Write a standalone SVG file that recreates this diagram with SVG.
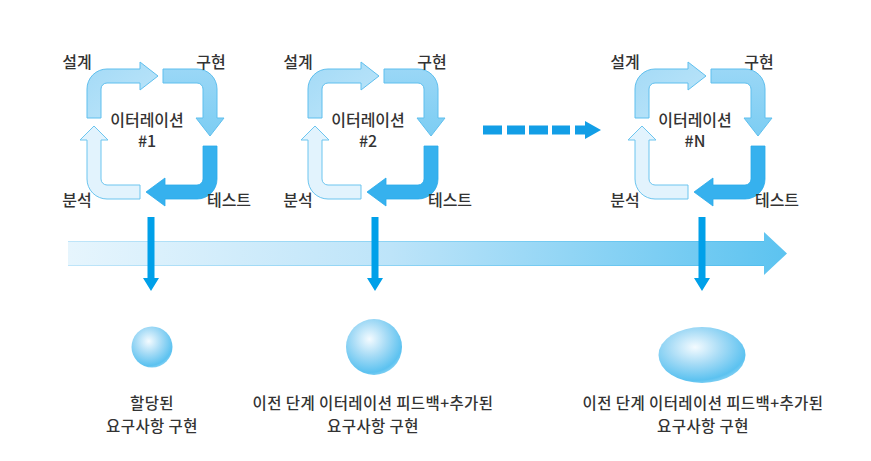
<svg xmlns="http://www.w3.org/2000/svg" xmlns:xlink="http://www.w3.org/1999/xlink" width="871" height="461" viewBox="0 0 871 461">
<style>
.lbl{font-family:"Noto Sans CJK KR","Noto Sans",sans-serif;font-size:16px;fill:#333;text-anchor:middle;font-weight:500}
.ctr{font-family:"Noto Sans CJK KR","Noto Sans",sans-serif;font-size:16px;fill:#333;text-anchor:middle;font-weight:500}
.cap{font-family:"Noto Sans CJK KR","Noto Sans",sans-serif;font-size:15.5px;letter-spacing:0.4px;fill:#333;text-anchor:middle;font-weight:500}
.a1{fill:url(#gA1);stroke:#5fbfee;stroke-width:1}
.a2{fill:url(#gA2);stroke:#5fbfee;stroke-width:1}
.a3{fill:#36b1ee;stroke:#2aaaea;stroke-width:0.8}
.a4{fill:#e2f3fd;stroke:#6cc5ef;stroke-width:1}
.down{fill:#00a0e9}
.dash{fill:#129ee6}
</style>
<defs>
<linearGradient id="gA1" x1="0" y1="0" x2="1" y2="1">
<stop offset="0" stop-color="#a3daf6"/><stop offset="1" stop-color="#bfe6fa"/>
</linearGradient>
<linearGradient id="gA2" x1="0" y1="0" x2="0" y2="1">
<stop offset="0" stop-color="#9ad7f6"/><stop offset="1" stop-color="#7ccdf3"/>
</linearGradient>
<linearGradient id="gMain" x1="68" y1="0" x2="787" y2="0" gradientUnits="userSpaceOnUse">
<stop offset="0" stop-color="#e6f5fd"/><stop offset="0.45" stop-color="#bde4f9"/><stop offset="1" stop-color="#5cc3f0"/>
</linearGradient>
<linearGradient id="gMainEdge" x1="68" y1="0" x2="787" y2="0" gradientUnits="userSpaceOnUse">
<stop offset="0" stop-color="#bfe5f9"/><stop offset="1" stop-color="#4fbdee"/>
</linearGradient>
<radialGradient id="gBub" cx="0.42" cy="0.36" r="0.66">
<stop offset="0" stop-color="#f4fbff"/><stop offset="0.45" stop-color="#a8dcf6"/><stop offset="0.9" stop-color="#5cc2f0"/><stop offset="1" stop-color="#7fcff3"/>
</radialGradient>
<g id="cycle">
<path class="a1" d="M -65,-16 L -65,-45 A 20,20 0 0 1 -45,-65 L -12,-65 L -12,-72 L 6,-58 L -12,-44 L -12,-51 L -45,-51 A 6,6 0 0 0 -51,-45 L -51,-16 Z"/>
<path class="a2" d="M 11,-65 L 45,-65 A 20,20 0 0 1 65,-45 L 65,-16 L 72,-16 L 58,2 L 44,-16 L 51,-16 L 51,-45 A 6,6 0 0 0 45,-51 L 11,-51 Z"/>
<path class="a3" d="M 65,12 L 65,45 A 20,20 0 0 1 45,65 L 13,65 L 13,72 L -6,58 L 13,44 L 13,51 L 45,51 A 6,6 0 0 0 51,45 L 51,12 Z"/>
<path class="a4" d="M -12,65 L -45,65 A 20,20 0 0 1 -65,45 L -65,6 L -72,6 L -58,-8 L -44,6 L -51,6 L -51,45 A 6,6 0 0 0 -45,51 L -12,51 Z"/>
<text class="lbl" x="-75" y="-66">설계</text>
<text class="lbl" x="59" y="-66">구현</text>
<text class="lbl" x="-75" y="72">분석</text>
<text class="lbl" x="77" y="72">테스트</text>
<text class="ctr" x="-5" y="-8">이터레이션</text>
</g>
</defs>
<rect width="871" height="461" fill="#fff"/>

<g id="timeline">
<path d="M 68,241 L 764,241 L 764,232 L 787,253.5 L 764,275 L 764,266 L 68,266 Z" fill="url(#gMain)"/>
<line x1="68" y1="241.5" x2="764" y2="241.5" stroke="url(#gMainEdge)" stroke-width="1.2"/>
<line x1="68" y1="265.5" x2="764" y2="265.5" stroke="url(#gMainEdge)" stroke-width="1.2"/>
</g>

<g id="iter1" transform="translate(152,134)">
<use xlink:href="#cycle"/>
<text class="ctr" x="-5" y="13">#1</text>
</g>
<g id="iter2" transform="translate(373,134)">
<use xlink:href="#cycle"/>
<text class="ctr" x="-5" y="13">#2</text>
</g>
<g id="iterN" transform="translate(700,134)">
<use xlink:href="#cycle"/>
<text class="ctr" x="-5" y="13">#N</text>
</g>

<g id="connectors">
<g id="dashed-arrow">
<rect class="dash" x="483" y="125.5" width="19" height="9"/>
<rect class="dash" x="507" y="125.5" width="18" height="9"/>
<rect class="dash" x="529" y="125.5" width="19" height="9"/>
<rect class="dash" x="552" y="125.5" width="18" height="9"/>
<path class="dash" d="M 575,125.5 L 585,125.5 L 585,121 L 601,130 L 585,139 L 585,134.5 L 575,134.5 Z"/>
</g>
<path class="down" d="M 147.5,217 L 154.5,217 L 154.5,278 L 159,278 L 151,291 L 143,278 L 147.5,278 Z"/>
<path class="down" d="M 371.5,217 L 378.5,217 L 378.5,278 L 383,278 L 375,291 L 367,278 L 371.5,278 Z"/>
<path class="down" d="M 698.5,217 L 705.5,217 L 705.5,278 L 710,278 L 702,291 L 694,278 L 698.5,278 Z"/>
</g>

<g id="result1">
<circle cx="152" cy="347" r="20.5" fill="url(#gBub)"/>
<text class="cap" x="152" y="409">할당된</text>
<text class="cap" x="152" y="432">요구사항 구현</text>
</g>
<g id="result2">
<circle cx="374" cy="347" r="28" fill="url(#gBub)"/>
<text class="cap" x="373" y="409">이전 단계 이터레이션 피드백+추가된</text>
<text class="cap" x="373" y="432">요구사항 구현</text>
</g>
<g id="resultN">
<ellipse cx="702" cy="355" rx="43.5" ry="28" fill="url(#gBub)"/>
<text class="cap" x="703" y="409">이전 단계 이터레이션 피드백+추가된</text>
<text class="cap" x="703" y="432">요구사항 구현</text>
</g>
</svg>
